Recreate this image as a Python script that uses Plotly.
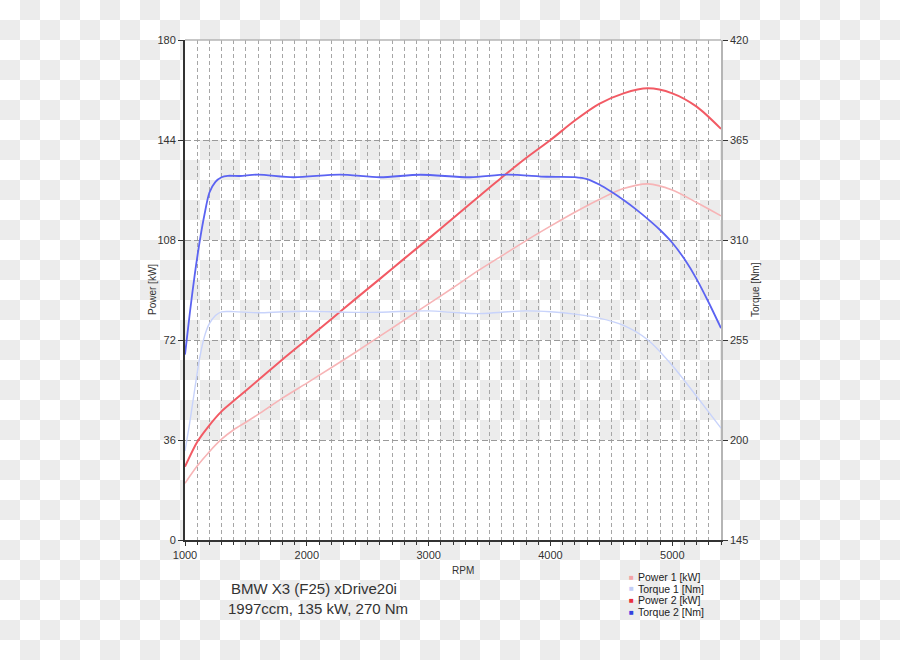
import plotly.graph_objects as go

# ---------------- data ----------------
power1_rpm = [1000, 1100, 1200, 1300, 1400, 1500, 1600, 1800, 2000, 2200, 2400, 2600, 2800,
              3000, 3200, 3400, 3600, 3800, 4000, 4200, 4400, 4600, 4800, 5000, 5200, 5400]
power1_kw = [20.4, 26.6, 31.8, 36.3, 39.7, 42.4, 45.2, 51.1, 56.5, 62.0, 67.6, 73.4, 79.2,
             85.0, 90.8, 96.8, 102.3, 107.8, 113.0, 118.0, 122.6, 126.5, 128.2, 126.0, 121.5, 116.7]

torque1_rpm = [1000, 1040, 1080, 1120, 1160, 1200, 1250, 1300, 1400, 1600, 1800, 2000, 2200,
               2400, 2600, 2800, 3000, 3200, 3400, 3600, 3800, 4000, 4200, 4400, 4600, 4800,
               5000, 5200, 5400]
torque1_nm = [194, 210, 228, 245, 257, 264, 268.5, 270.5, 270.6, 270.0, 270.5, 270.8, 270.5,
              270.2, 270.3, 270.8, 271.0, 270.2, 269.5, 270.3, 271.0, 270.5, 269.2, 267.0, 263.0,
              255.0, 241.0, 224.0, 206.5]

power2_rpm = [1000, 1100, 1200, 1300, 1400, 1600, 1800, 2000, 2200, 2400, 2600, 2800, 3000,
              3200, 3400, 3600, 3800, 4000, 4200, 4400, 4600, 4800, 5000, 5200, 5400]
power2_kw = [26.4, 35.3, 41.3, 46.3, 50.1, 57.5, 65.0, 72.2, 79.5, 86.8, 94.0, 101.3, 108.5,
             115.8, 123.2, 130.5, 137.5, 144.0, 151.0, 157.0, 160.8, 162.6, 160.8, 156.0, 148.0]

torque2_rpm = [1000, 1040, 1080, 1120, 1160, 1200, 1250, 1300, 1350, 1450, 1600, 1890, 2270,
               2600, 2930, 3340, 3640, 3970, 4200, 4300, 4400, 4500, 4600, 4700, 4800, 4900,
               5000, 5100, 5200, 5300, 5400]
torque2_nm = [247, 270, 291, 309, 324, 336, 342, 344.5, 345.3, 345.2, 346.0, 344.5, 346.0,
              344.5, 345.9, 344.5, 346.0, 344.8, 344.6, 343.5, 340.5, 336.5, 332.0, 327.0,
              321.5, 315.5, 308.5, 299.5, 288.5, 275.5, 261.5]

x_ticks = [1000, 2000, 3000, 4000, 5000]
power_ticks = [0, 36, 72, 108, 144, 180]
torque_ticks = [145, 200, 255, 310, 365, 420]

legend_names = ["Power 1 [kW]", "Torque 1 [Nm]", "Power 2 [kW]", "Torque 2 [Nm]"]
legend_colors = ["#f4a3a6", "#c3cdf7", "#e9303c", "#3341e0"]

title_line1 = "BMW X3 (F25) xDrive20i"
title_line2 = "1997ccm, 135 kW, 270 Nm"

# ---------------- layout geometry ----------------
W, H = 900, 660
L, R, T, B = 185, 179, 40, 120
PW, PH = W - L - R, H - T - B


def px(x):
    return (x - L) / PW


def py(y):
    return (H - B - y) / PH


FONT = "Liberation Sans, Arial, sans-serif"
GRAY_SQ = "#ececec"

shapes = []
# checkerboard background (transparent-png look)
for r in range(H // 20):
    for c in range(W // 20 + 1):
        if (r + c) % 2 == 1:
            shapes.append(dict(type="rect", xref="paper", yref="paper",
                               x0=px(c * 20), x1=px(c * 20 + 20),
                               y0=py(r * 20 + 20), y1=py(r * 20),
                               fillcolor=GRAY_SQ, line=dict(width=0), layer="below"))
# white bands inside plot area
shapes.append(dict(type="rect", xref="paper", yref="paper", x0=0, x1=1, y0=py(140), y1=1,
                   fillcolor="white", line=dict(width=0), layer="below"))
shapes.append(dict(type="rect", xref="paper", yref="paper", x0=0, x1=1, y0=0, y1=py(440),
                   fillcolor="white", line=dict(width=0), layer="below"))
# top frame line
shapes.append(dict(type="line", xref="paper", yref="paper", x0=0, x1=1, y0=1, y1=1,
                   line=dict(color="#b5b5b5", width=1.5), layer="above"))

fig = go.Figure()

fig.add_trace(go.Scatter(x=power1_rpm, y=power1_kw, mode="lines", name=legend_names[0],
                         line=dict(color="#f7b4b6", width=1.6, shape="spline", smoothing=0.8),
                         yaxis="y"))
fig.add_trace(go.Scatter(x=torque1_rpm, y=torque1_nm, mode="lines", name=legend_names[1],
                         line=dict(color="#c8d3fb", width=1.4, shape="spline", smoothing=0.8),
                         yaxis="y2"))
fig.add_trace(go.Scatter(x=power2_rpm, y=power2_kw, mode="lines", name=legend_names[2],
                         line=dict(color="#f25a64", width=2.0, shape="spline", smoothing=0.8),
                         yaxis="y"))
fig.add_trace(go.Scatter(x=torque2_rpm, y=torque2_nm, mode="lines", name=legend_names[3],
                         line=dict(color="#5b63f2", width=1.8, shape="spline", smoothing=0.8),
                         yaxis="y2"))


def ann(text, x, y, size, color="#333", angle=0, xanchor="center"):
    return dict(text=text, xref="paper", yref="paper", x=px(x), y=py(y), showarrow=False,
                xanchor=xanchor, yanchor="middle", textangle=angle,
                font=dict(family=FONT, size=size, color=color))


annotations = [
    ann("Power [kW]", 152, 290, 10, angle=-90),
    ann("Torque [Nm]", 755, 290, 10, angle=-90),
    ann("RPM", 463, 570, 10),
    ann(title_line1, 314, 588, 15),
    ann(title_line2, 318, 608, 15),
]
for i, (name, col) in enumerate(zip(legend_names, legend_colors)):
    yy = 577 + i * 11.7
    annotations.append(ann("■", 631, yy, 8, color=col))
    annotations.append(ann(name, 636, yy, 10.5, color="#222", xanchor="left"))

GRID_DASH = "4px,3px"
fig.update_layout(
    width=W, height=H,
    margin=dict(l=L, r=R, t=T, b=B, autoexpand=False),
    paper_bgcolor="white",
    plot_bgcolor="rgba(0,0,0,0)",
    showlegend=False,
    shapes=shapes,
    annotations=annotations,
    font=dict(family=FONT, size=11, color="#333"),
    xaxis=dict(range=[1000, 5400], tickvals=x_ticks, ticktext=[str(v) for v in x_ticks],
               showline=True, linecolor="#333", linewidth=2,
               ticks="outside", ticklen=4, tickcolor="#333", tickwidth=1,
               showgrid=True, gridcolor="#a6a6a6", gridwidth=1, griddash=GRID_DASH,
               zeroline=False,
               minor=dict(dtick=100, tick0=1000, showgrid=True, gridcolor="#a6a6a6",
                          griddash=GRID_DASH, gridwidth=1, ticks="outside", ticklen=3,
                          tickcolor="#333"),
               tickfont=dict(family=FONT, size=11, color="#333")),
    yaxis=dict(range=[0, 180], tickvals=power_ticks, ticktext=[str(v) for v in power_ticks],
               showline=True, linecolor="#333", linewidth=2,
               ticks="outside", ticklen=5, tickcolor="#333",
               showgrid=True, gridcolor="#9a9a9a", gridwidth=1, griddash="6px,3px",
               zeroline=False, tickfont=dict(family=FONT, size=11, color="#333")),
    yaxis2=dict(range=[145, 420], tickvals=torque_ticks, ticktext=[str(v) for v in torque_ticks],
                overlaying="y", side="right", showgrid=False, zeroline=False,
                showline=True, linecolor="#b5b5b5", linewidth=1.5,
                ticks="outside", ticklen=5, tickcolor="#333",
                tickfont=dict(family=FONT, size=11, color="#333")),
)

fig.write_html("out.html", config={"displayModeBar": False},
               post_script="document.body.style.margin='0';document.body.style.overflow='hidden';")
